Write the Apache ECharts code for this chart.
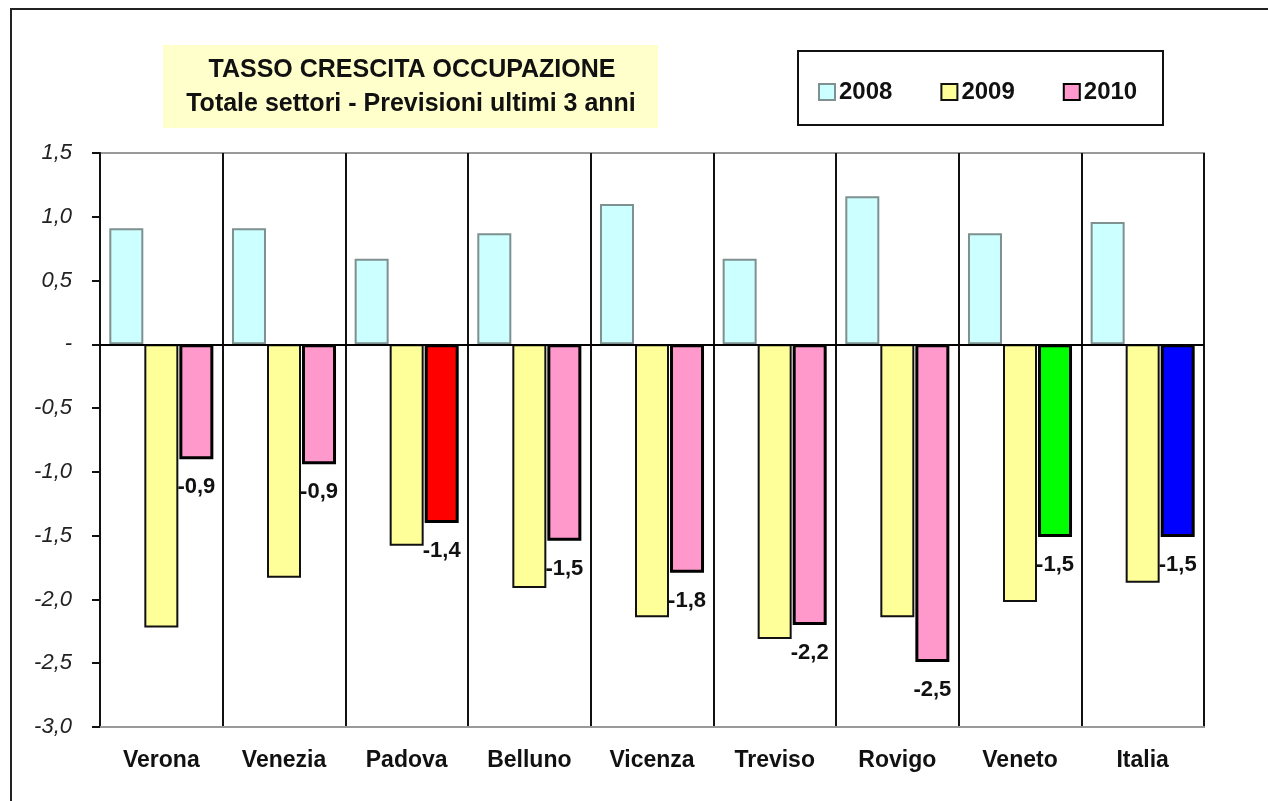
<!DOCTYPE html>
<html>
<head>
<meta charset="utf-8">
<title>Tasso crescita occupazione</title>
<script src="https://cdn.jsdelivr.net/npm/echarts@6/dist/echarts.min.js"></script>
<style>
  html, body { margin: 0; padding: 0; background: #fff; }
  #chart { width: 1268px; height: 801px; }
</style>
</head>
<body>
<div id="chart"></div>
<script>
// dati
const categories = ['Verona', 'Venezia', 'Padova', 'Belluno', 'Vicenza', 'Treviso', 'Rovigo', 'Veneto', 'Italia'];
const years = ['2008', '2009', '2010'];
const values2008 = [0.91, 0.91, 0.67, 0.87, 1.10, 0.67, 1.16, 0.87, 0.96];
const values2009 = [-2.22, -1.83, -1.58, -1.91, -2.14, -2.31, -2.14, -2.02, -1.87];
const values2010 = [-0.90, -0.94, -1.40, -1.54, -1.79, -2.20, -2.49, -1.51, -1.51];
const yTicks = { min: -3, max: 1.5, step: 0.5 };

// barre 2010 evidenziate
const highlight = { Padova: '#FF0000', Veneto: '#00FF00', Italia: '#0000FF' };

const font = 'Arial, "Liberation Sans", sans-serif';
const fmt = v => v.toFixed(1).replace('.', ',');

let chart = echarts.init(document.getElementById('chart'));

chart.setOption({
    animation: false,
    textStyle: { fontFamily: font },
    graphic: [
        // cornice esterna
        { type: 'rect', z: -10, shape: { x: 11, y: 9, width: 1400, height: 1000 },
          style: { fill: '#fff', stroke: '#222', lineWidth: 2 } },
        // riquadro titolo
        { type: 'rect', shape: { x: 163, y: 45, width: 495, height: 83 },
          style: { fill: '#FFFFCC' } },
        { type: 'text', x: 412, y: 70, style: { text: 'TASSO CRESCITA OCCUPAZIONE', font: 'bold 25px ' + font,
          fill: '#111', align: 'center', verticalAlign: 'middle' } },
        { type: 'text', x: 411, y: 104, style: { text: 'Totale settori - Previsioni ultimi 3 anni', font: 'bold 25px ' + font,
          fill: '#111', align: 'center', verticalAlign: 'middle' } },
        // riquadro legenda
        { type: 'rect', shape: { x: 798, y: 51, width: 365, height: 74 },
          style: { fill: 'none', stroke: '#111', lineWidth: 2 } }
    ],
    legend: {
        data: years,
        left: 818,
        top: 80,
        padding: 0,
        icon: 'rect',
        itemWidth: 16,
        itemHeight: 16,
        itemGap: 48,
        textStyle: { fontSize: 24, fontWeight: 'bold', color: '#111', padding: [0, 0, 0, -1] }
    },
    grid: {
        left: 100,
        right: 64,
        top: 153,
        bottom: 74,
        show: true,
        borderColor: '#999',
        borderWidth: 2
    },
    xAxis: {
        type: 'category',
        data: categories,
        axisLine: { onZero: false, lineStyle: { color: '#999', width: 2 } },
        axisTick: { show: false },
        axisLabel: { fontSize: 23, fontWeight: 'bold', color: '#111', margin: 22 },
        splitLine: { show: true, interval: 0, lineStyle: { color: '#111', width: 2 } }
    },
    yAxis: {
        type: 'value',
        min: yTicks.min,
        max: yTicks.max,
        interval: yTicks.step,
        axisLine: { show: true, lineStyle: { color: '#111', width: 2 } },
        axisTick: { show: true, length: 8, lineStyle: { color: '#111', width: 2 } },
        axisLabel: {
            fontSize: 22,
            fontStyle: 'italic',
            color: '#222',
            margin: 28,
            formatter: v => (Math.abs(v) < 1e-9 ? '-' : fmt(v))
        },
        splitLine: { show: false }
    },
    series: [
        {
            name: '2008',
            type: 'bar',
            data: values2008,
            barWidth: 34,
            barGap: '3%',
            itemStyle: { color: '#CCFFFF', borderColor: '#7f9090', borderWidth: 2 },
            markLine: {
                silent: true,
                symbol: 'none',
                label: { show: false },
                lineStyle: { color: '#000', type: 'solid', width: 2 },
                data: [{ yAxis: 0 }]
            }
        },
        {
            name: '2009',
            type: 'bar',
            data: values2009,
            barWidth: 34,
            barGap: '3%',
            itemStyle: { color: '#FFFF99', borderColor: '#111', borderWidth: 2 }
        },
        {
            name: '2010',
            type: 'bar',
            data: values2010.map((v, i) => highlight[categories[i]]
                ? { value: v, itemStyle: { color: highlight[categories[i]] } }
                : v),
            barWidth: 34,
            barGap: '3%',
            itemStyle: { color: '#FF99CC', borderColor: '#000', borderWidth: 3 },
            label: {
                show: true,
                position: 'bottom',
                distance: 17,
                fontSize: 22,
                fontWeight: 'bold',
                color: '#111',
                formatter: p => fmt(p.value)
            }
        }
    ]
});
</script>
</body>
</html>
